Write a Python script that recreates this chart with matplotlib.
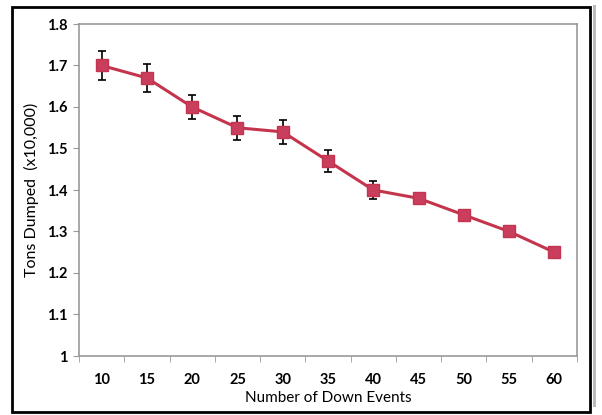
import matplotlib.pyplot as plt
import matplotlib.ticker as mticker
from matplotlib.patches import Rectangle

# datos
eventos = [10, 15, 20, 25, 30, 35, 40, 45, 50, 55, 60]
toneladas = [1.70, 1.67, 1.60, 1.55, 1.54, 1.47, 1.40, 1.38, 1.34, 1.30, 1.25]
error = [0.035, 0.034, 0.030, 0.029, 0.028, 0.027, 0.021, 0.012, 0.006, 0.005, 0.004]

plt.rcParams['font.family'] = ['Lato', 'DejaVu Sans']

fig = plt.figure(figsize=(6.02, 4.15), dpi=100)
ax = fig.add_axes([79 / 602, 1 - 356 / 415, 498 / 602, 332 / 415])

# marco exterior
fig.patches.append(Rectangle((593 / 602, 8 / 415), 3 / 602, 402 / 415, transform=fig.transFigure,
                             facecolor='#bbbbbb', edgecolor='none'))
fig.patches.append(Rectangle((12 / 602, 3 / 415), 578 / 602, 405 / 415, transform=fig.transFigure,
                             fill=False, edgecolor='black', linewidth=2))

pos = list(range(len(eventos)))
ax.errorbar(pos, toneladas, yerr=error, color='#c4354d', linewidth=2.2,
            marker='s', markersize=8, markerfacecolor='#c93e5c', markeredgecolor='#c43350',
            ecolor='black', elinewidth=1.2, capsize=3, capthick=1.2, zorder=3)

ax.set_xlim(-0.5, len(eventos) - 0.5)
ax.set_ylim(1, 1.8)
ax.yaxis.set_major_locator(mticker.MultipleLocator(0.1))
ax.yaxis.set_major_formatter(mticker.FuncFormatter(lambda v, p: '1' if abs(v - 1) < 1e-9 else f'{v:.1f}'))

ax.set_xticks(pos)
ax.set_xticklabels([str(e) for e in eventos])
ax.xaxis.set_minor_locator(mticker.FixedLocator([p - 0.5 for p in range(len(eventos) + 1)]))
ax.tick_params(axis='x', which='major', length=0, pad=12, labelsize=10.5)
ax.tick_params(axis='x', which='minor', length=4, color='#999999', direction='out')
ax.tick_params(axis='y', length=4, color='#999999', labelsize=10.5, pad=4)
for lbl in ax.get_xticklabels() + ax.get_yticklabels():
    lbl.set_fontweight('bold')

for s in ax.spines.values():
    s.set_color('#999999')
    s.set_linewidth(1.2)

ax.set_xlabel('Number of Down Events', fontsize=11, labelpad=3)
ax.set_ylabel('Tons Dumped  (x10,000)', fontsize=11.5, labelpad=6)

plt.savefig('out.png', dpi=100)
